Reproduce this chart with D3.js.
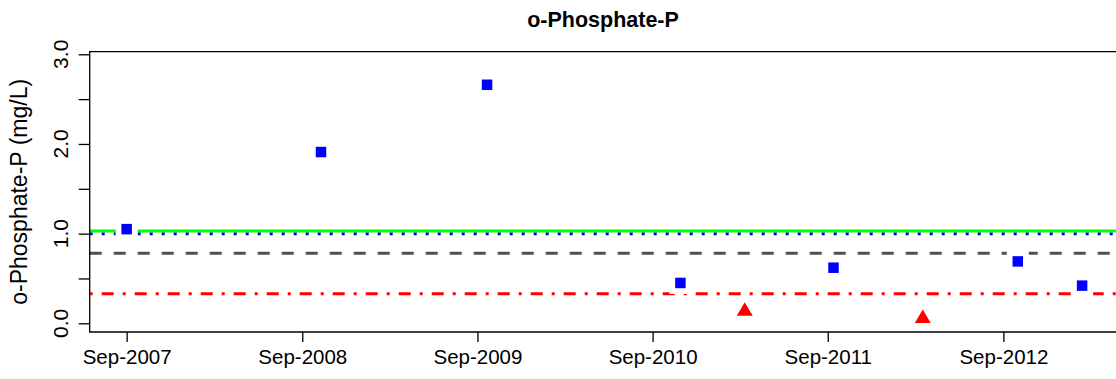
<!DOCTYPE html>
<html>
<head>
<meta charset="utf-8">
<script src="https://cdn.jsdelivr.net/npm/d3@7"></script>
<style>
  html, body { margin: 0; padding: 0; background: #ffffff; }
  svg { display: block; }
  text { font-family: "Liberation Sans", Arial, sans-serif; fill: #000; }
</style>
</head>
<body>
<svg id="chart" width="1116" height="379"></svg>
<script>
// ---- data ----
const title = "o-Phosphate-P";
const yLabel = "o-Phosphate-P (mg/L)";
const detectDates = ["2007-09-01", "2008-10-10", "2009-09-21", "2010-10-29", "2011-09-13", "2012-10-01", "2013-02-12"];
const detectValues = [1.05, 1.91, 2.66, 0.45, 0.62, 0.69, 0.42];
const belowDates = ["2011-03-12", "2012-03-17"];
const belowValues = [0.14, 0.06];
const greenLineValue = 1.03;
const blueDottedValue = 1.00;
const grayDashedValue = 0.78;
const redDashDotValue = 0.33;
const xTickDates = ["2007-09-01", "2008-09-01", "2009-09-01", "2010-09-01", "2011-09-01", "2012-09-01"];
const yTickValues = [0, 0.5, 1, 1.5, 2, 2.5, 3];
const yTickLabelValues = [0, 1, 2, 3];
const xDomain = ["2007-06-16", "2013-05-02"];
const yDomain = [0, 3];

// ---- layout ----
const parse = d3.timeParse("%Y-%m-%d");
const svg = d3.select("#chart");
const mLeft = 89.7, mRight = 1120, mTop = 51.7, mBottom = 332;

const x = d3.scaleTime().domain(xDomain.map(parse)).range([mLeft, mRight]);
const y = d3.scaleLinear().domain(yDomain).range([323.3, 323.3 - 89.67 * 3]);

// title
svg.append("text").attr("x", 603).attr("y", 27)
  .attr("text-anchor", "middle").style("font-weight", "bold").style("font-size", "21.5px")
  .text(title);

// reference lines
const lineG = svg.append("g");
function hline(v, color, width, dash) {
  lineG.append("line").attr("x1", mLeft).attr("x2", mRight)
    .attr("y1", y(v)).attr("y2", y(v))
    .attr("stroke", color).attr("stroke-width", width)
    .attr("stroke-dasharray", dash || null);
}
hline(grayDashedValue, "#505050", 3, "12,12");
hline(redDashDotValue, "#ff0000", 3, "3,9,12,9");
hline(blueDottedValue, "#0000ff", 3, "3,9");
hline(greenLineValue, "#00ff00", 3, null);

// points: white halos then squares
const pts = detectDates.map((d, i) => ({ date: parse(d), v: detectValues[i] }));
const sq = 10.5, halo = 22;
svg.append("g").selectAll("rect").data(pts).join("rect")
  .attr("x", d => x(d.date) - halo / 2).attr("y", d => y(d.v) - halo / 2)
  .attr("width", halo).attr("height", halo).attr("fill", "#ffffff");
svg.append("g").selectAll("rect").data(pts).join("rect")
  .attr("x", d => x(d.date) - sq / 2).attr("y", d => y(d.v) - sq / 2)
  .attr("width", sq).attr("height", sq).attr("fill", "#0000ff");

const tri = belowDates.map((d, i) => ({ date: parse(d), v: belowValues[i] }));
svg.append("g").selectAll("path").data(tri).join("path")
  .attr("transform", d => `translate(${x(d.date)},${y(d.v)})`)
  .attr("d", "M0,-8.5 L8,5 L-8,5 Z").attr("fill", "#ff0000");

// box (right side beyond view)
svg.append("path")
  .attr("d", `M${mRight},${mTop} H${mLeft} V${mBottom} H${mRight}`)
  .attr("fill", "none").attr("stroke", "#000").attr("stroke-width", 1.3);

// y axis
const yAxis = d3.axisLeft(y).tickValues(yTickValues).tickSize(11).tickFormat("");
const gy = svg.append("g").attr("transform", `translate(${mLeft},0)`).call(yAxis);
gy.select(".domain").remove();
gy.selectAll(".tick line").attr("stroke", "#000").attr("stroke-width", 1.3);
svg.append("g").selectAll("text").data(yTickLabelValues).join("text")
  .attr("transform", d => `translate(67.5,${y(d)}) rotate(-90)`)
  .attr("text-anchor", "middle").style("font-size", "21px")
  .text(d3.format(".1f"));

// x axis
const xAxis = d3.axisBottom(x).tickValues(xTickDates.map(parse)).tickSize(10).tickFormat(d3.timeFormat("%b-%Y"));
const gx = svg.append("g").attr("transform", `translate(0,${mBottom})`).call(xAxis);
gx.select(".domain").remove();
gx.selectAll(".tick line").attr("stroke", "#000").attr("stroke-width", 1.3);
gx.selectAll(".tick text").attr("y", 17).attr("dy", "0.71em")
  .style("font-size", "20.5px").style("font-family", "Liberation Sans, Arial, sans-serif").attr("fill", "#000");

// y label
svg.append("text").attr("transform", `translate(27,${(mTop + mBottom) / 2}) rotate(-90)`)
  .attr("text-anchor", "middle").style("font-size", "23px")
  .text(yLabel);
</script>
</body>
</html>
